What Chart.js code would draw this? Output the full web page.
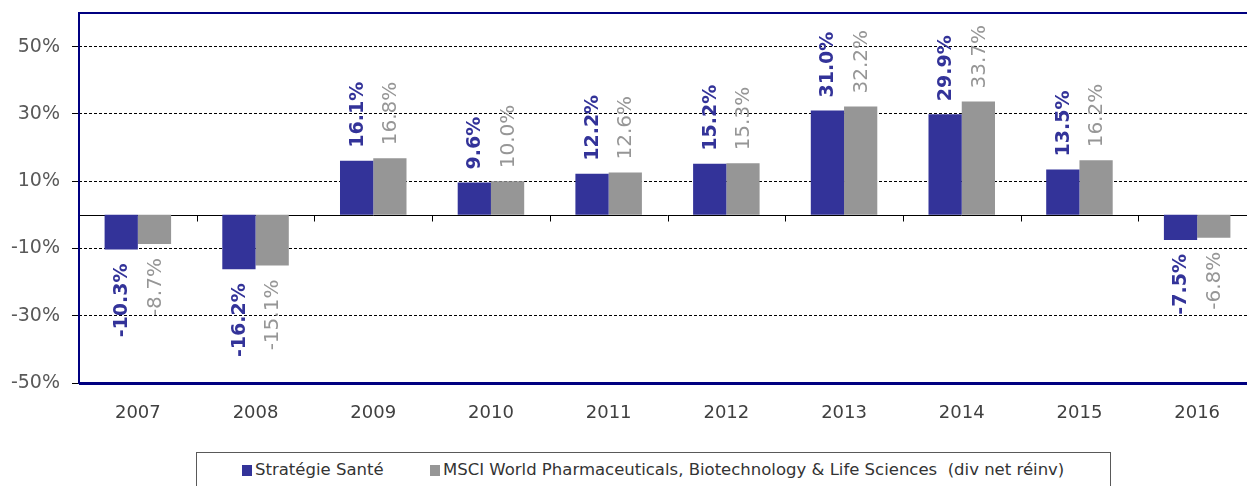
<!DOCTYPE html>
<html>
<head>
<meta charset="utf-8">
<script src="https://cdn.jsdelivr.net/npm/chart.js@4.4.0/dist/chart.umd.min.js"></script>
<style>
  html, body { margin: 0; padding: 0; background: #fff; overflow: hidden; width: 1247px; height: 486px; }
  #wrap { position: absolute; left: 0; top: 0; width: 1262px; height: 440px; }
  #legende {
    position: absolute; left: 196px; top: 452px; width: 915px; height: 40px;
    border: 1px solid #595959; box-sizing: border-box;
    font-family: "DejaVu Sans", sans-serif; font-size: 16.5px; color: #333;
  }
  .item { position: absolute; top: 7px; white-space: pre; }
  .carre { display: inline-block; width: 10px; height: 11px; margin-right: 3px; vertical-align: -1px; }
</style>
</head>
<body>
<div id="wrap"><canvas id="graphique" width="1262" height="440"></canvas></div>
<div id="legende">
  <span class="item" style="left:45px"><span class="carre" style="background:#333399"></span>Stratégie Santé</span>
  <span class="item" style="left:233px"><span class="carre" style="background:#969696"></span>MSCI World Pharmaceuticals, Biotechnology &amp; Life Sciences  (div net réinv)</span>
</div>
<script>
// Données
const annees = ['2007', '2008', '2009', '2010', '2011', '2012', '2013', '2014', '2015', '2016'];
const strategieSante = [-10.3, -16.2, 16.1, 9.6, 12.2, 15.2, 31.0, 29.9, 13.5, -7.5];
const msciWorld = [-8.7, -15.1, 16.8, 10.0, 12.6, 15.3, 32.2, 33.7, 16.2, -6.8];
const graduations = [-50, -30, -10, 10, 30, 50];

const BLEU = '#333399';
const GRIS = '#969696';

// Ligne du zéro, petites marques et cadre bleu
const cadre = {
    id: 'cadre',
    beforeDatasetsDraw(chart) {
        const { ctx, chartArea, scales } = chart;
        const y0 = Math.round(scales.y.getPixelForValue(0)) + 0.5;
        ctx.save();
        ctx.strokeStyle = '#000';
        ctx.lineWidth = 1;
        ctx.beginPath();
        ctx.moveTo(chartArea.left, y0);
        ctx.lineTo(chartArea.right, y0);
        const largeur = (chartArea.right - chartArea.left) / annees.length;
        for (let i = 1; i < annees.length; i++) {
            const x = Math.round(chartArea.left + i * largeur) + 0.5;
            ctx.moveTo(x, y0);
            ctx.lineTo(x, y0 + 6);
        }
        ctx.stroke();
        ctx.restore();
    },
    afterDraw(chart) {
        const { ctx, chartArea } = chart;
        ctx.save();
        ctx.strokeStyle = '#000080';
        ctx.lineWidth = 2;
        ctx.strokeRect(chartArea.left, chartArea.top, chartArea.right - chartArea.left, chartArea.bottom - chartArea.top);
        ctx.beginPath();
        ctx.lineWidth = 3;
        ctx.moveTo(chartArea.left, chartArea.bottom + 0.5);
        ctx.lineTo(chartArea.right, chartArea.bottom + 0.5);
        ctx.stroke();
        ctx.restore();
    }
};

// Étiquettes verticales au bout des barres
const etiquettes = {
    id: 'etiquettes',
    afterDatasetsDraw(chart) {
        const ctx = chart.ctx;
        chart.data.datasets.forEach((ds, i) => {
            const meta = chart.getDatasetMeta(i);
            meta.data.forEach((barre, j) => {
                const v = ds.data[j];
                const texte = v.toFixed(1) + '%';
                ctx.save();
                ctx.font = i === 0 ? 'bold 19px "DejaVu Sans", sans-serif' : '20px "DejaVu Sans", sans-serif';
                ctx.fillStyle = ds.backgroundColor;
                ctx.textBaseline = 'middle';
                const y = v >= 0 ? barre.y - 13 : barre.y + 14;
                ctx.translate(barre.x + 1, y);
                ctx.rotate(-Math.PI / 2);
                ctx.textAlign = v >= 0 ? 'left' : 'right';
                ctx.fillText(texte, 0, 0);
                ctx.restore();
            });
        });
    }
};

function inicializarGrafico() {
    const ctx = document.getElementById('graphique').getContext('2d');
    new Chart(ctx, {
        type: 'bar',
        data: {
            labels: annees,
            datasets: [
                { label: 'Stratégie Santé', data: strategieSante, backgroundColor: BLEU },
                { label: 'MSCI World Pharmaceuticals, Biotechnology & Life Sciences  (div net réinv)', data: msciWorld, backgroundColor: GRIS }
            ]
        },
        options: {
            responsive: false,
            animation: false,
            layout: { padding: { top: 13, right: 6, left: 0, bottom: 0 } },
            datasets: { bar: { categoryPercentage: 0.565, barPercentage: 1.0 } },
            plugins: { legend: { display: false }, tooltip: { enabled: false } },
            scales: {
                x: {
                    grid: { display: false },
                    border: { display: false },
                    ticks: {
                        color: '#404040', padding: 12, maxRotation: 0,
                        font: { family: '"DejaVu Sans", sans-serif', size: 18 }
                    },
                    afterFit(scale) { scale.height = 57; scale.paddingLeft = 0; scale.paddingRight = 0; }
                },
                y: {
                    min: -50, max: 60,
                    afterBuildTicks(scale) { scale.ticks = graduations.map(v => ({ value: v })); },
                    grid: {
                        color: '#000', lineWidth: 1,
                        tickLength: 7, tickBorderDash: [], tickColor: '#000'
                    },
                    border: { display: false, dash: [3, 2] },
                    ticks: {
                        color: '#595959', padding: 12,
                        font: { family: '"DejaVu Sans", sans-serif', size: 19 },
                        callback: v => v + '%'
                    },
                    afterFit(scale) { scale.width = 79; scale.paddingTop = 0; scale.paddingBottom = 0; }
                }
            }
        },
        plugins: [cadre, etiquettes]
    });
}

window.onload = inicializarGrafico;
</script>
</body>
</html>
